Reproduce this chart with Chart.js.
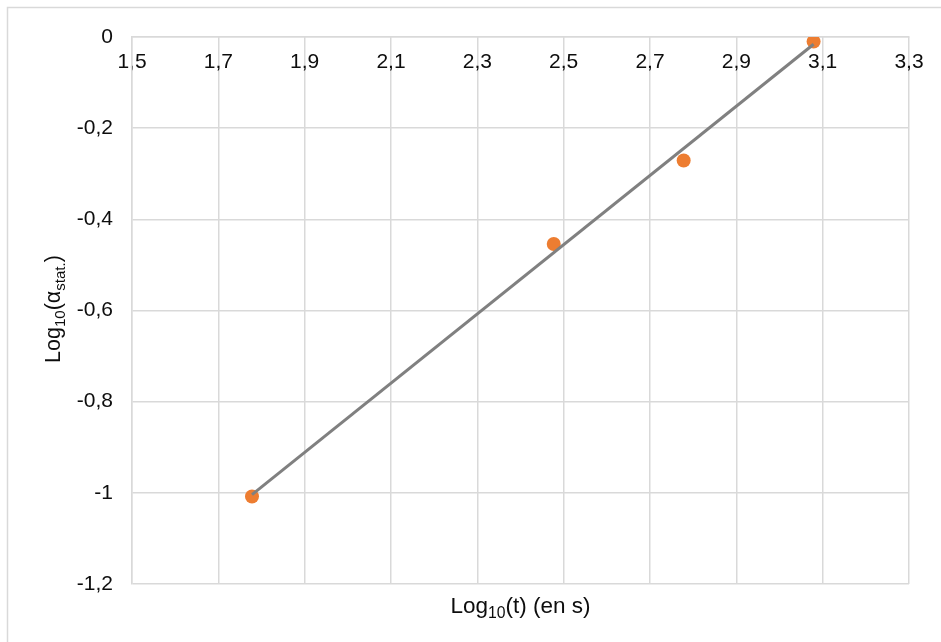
<!DOCTYPE html>
<html>
<head>
<meta charset="utf-8">
<script src="https://cdn.jsdelivr.net/npm/chart.js@4/dist/chart.umd.min.js"></script>
<style>
  html, body { margin: 0; padding: 0; background: #fff; }
  #wrap { width: 941px; height: 642px; position: relative; }
</style>
</head>
<body>
<div id="wrap"><canvas id="alphaChart"></canvas></div>
<script>
// measured points (log10 t, log10 alpha_stat)
const logT = [1.778, 2.477, 2.778, 3.079];
const logAlpha = [-1.008, -0.454, -0.271, -0.010];
// linear trend line end points
const trendX = [1.778, 3.079];
const trendY = [-1.004, -0.016];
// axis ticks
const xTicks = [1.5, 1.7, 1.9, 2.1, 2.3, 2.5, 2.7, 2.9, 3.1, 3.3];
const yTicks = [0, -0.2, -0.4, -0.6, -0.8, -1, -1.2];

const FONT = '"Liberation Sans", Arial, sans-serif';
const gridColor = '#d9d9d9';
const textColor = '#0d0d0d';

function fmt(v) {
    let r = Math.round(v * 10) / 10;
    if (r === 0) r = 0;
    return String(r).replace('.', ',');
}

// draws text with subscript parts, centered on 0,0 of the current transform
function drawRich(ctx, parts, size) {
    const big = size + 'px ' + FONT;
    const small = (size * 0.7) + 'px ' + FONT;
    let total = 0;
    parts.forEach(p => {
        ctx.font = p.sub ? small : big;
        p.w = ctx.measureText(p.t).width;
        total += p.w;
    });
    let x = -total / 2;
    ctx.textAlign = 'left';
    ctx.textBaseline = 'alphabetic';
    parts.forEach(p => {
        ctx.font = p.sub ? small : big;
        ctx.fillText(p.t, x, p.sub ? 12.5 : 7.5);
        x += p.w;
    });
}

const framePlugin = {
    id: 'frame',
    beforeDraw(chart) {
        const ctx = chart.ctx;
        ctx.save();
        ctx.fillStyle = '#fff';
        ctx.fillRect(0, 0, chart.width, chart.height);
        ctx.strokeStyle = gridColor;
        ctx.lineWidth = 1.5;
        ctx.strokeRect(7.5, 7.5, 1200, 1200);
        ctx.restore();
    },
    afterDraw(chart) {
        const ctx = chart.ctx;
        const area = chart.chartArea;
        ctx.save();
        ctx.fillStyle = textColor;
        // x axis title
        ctx.translate((area.left + area.right) / 2, 605);
        drawRich(ctx, [{t: 'Log'}, {t: '10', sub: true}, {t: '(t) (en s)'}], 22.5);
        ctx.restore();
        ctx.save();
        ctx.fillStyle = textColor;
        // y axis title
        ctx.translate(52.5, 309);
        ctx.rotate(-Math.PI / 2);
        drawRich(ctx, [{t: 'Log'}, {t: '10', sub: true}, {t: '(α'}, {t: 'stat.', sub: true}, {t: ')'}], 21.5);
        ctx.restore();
    }
};

const ctx = document.getElementById('alphaChart').getContext('2d');

const alphaChart = new Chart(ctx, {
    type: 'scatter',
    data: {
        datasets: [{
            label: 'Tendance',
            data: trendX.map((x, i) => ({x: x, y: trendY[i]})),
            showLine: true,
            borderColor: '#808080',
            borderWidth: 3,
            pointRadius: 0,
            fill: false
        },
        {
            label: 'Log10(alpha)',
            data: logT.map((x, i) => ({x: x, y: logAlpha[i]})),
            backgroundColor: '#ed7d31',
            borderColor: '#ed7d31',
            pointRadius: 7,
            pointBorderWidth: 0
        }]
    },
    options: {
        responsive: true,
        maintainAspectRatio: false,
        animation: false,
        layout: {
            padding: {top: 37, right: 32, bottom: 58, left: 0}
        },
        plugins: {
            legend: { display: false },
            tooltip: { enabled: false }
        },
        scales: {
            x: {
                type: 'linear',
                position: {y: 0},
                min: xTicks[0],
                max: xTicks[xTicks.length - 1],
                afterBuildTicks: scale => {
                    scale.ticks = xTicks.map(v => ({value: v}));
                },
                grid: {
                    color: gridColor,
                    lineWidth: 1.5,
                    drawTicks: false
                },
                border: { color: gridColor, width: 1.5 },
                ticks: {
                    padding: 13,
                    color: textColor,
                    font: { family: FONT, size: 21 },
                    maxRotation: 0,
                    callback: v => fmt(v)
                }
            },
            y: {
                type: 'linear',
                min: -1.2,
                max: 0,
                afterBuildTicks: scale => {
                    scale.ticks = yTicks.map(v => ({value: v}));
                },
                afterFit: scale => {
                    scale.width = 132;
                },
                grid: {
                    color: gridColor,
                    lineWidth: 1.5,
                    drawTicks: false
                },
                border: { color: gridColor, width: 1.5 },
                ticks: {
                    padding: 19,
                    color: textColor,
                    font: { family: FONT, size: 21 },
                    callback: v => fmt(v)
                }
            }
        }
    },
    plugins: [framePlugin]
});
</script>
</body>
</html>
